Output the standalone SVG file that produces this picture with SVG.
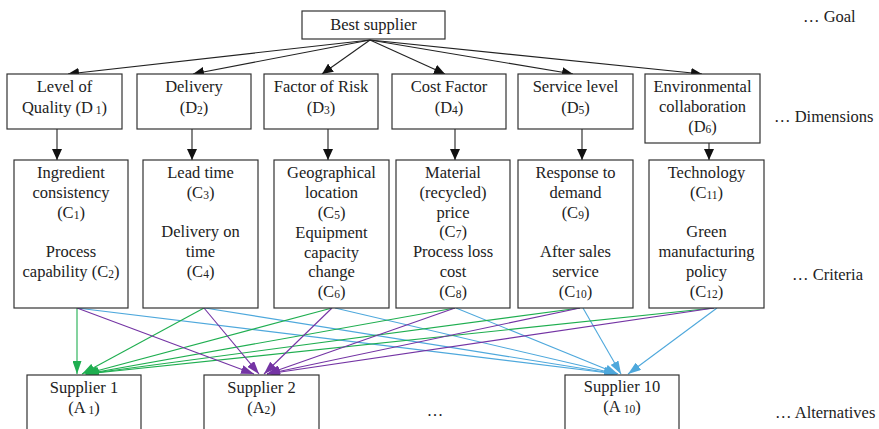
<svg xmlns="http://www.w3.org/2000/svg" width="879" height="429" viewBox="0 0 879 429">
<style>
text{font-family:"Liberation Serif","DejaVu Serif","Noto Serif",Tinos,"Times New Roman",Times,serif;font-size:16.5px;fill:#222;text-anchor:middle}
.lab{text-anchor:start}
.box{fill:#fff;stroke:#333;stroke-width:1.2}
.k{stroke:#222;stroke-width:1.1;fill:none}
.g{stroke:#1fae50;stroke-width:1.1;fill:none}
.p{stroke:#7434a4;stroke-width:1.1;fill:none}
.b{stroke:#4ea8dc;stroke-width:1.1;fill:none}
.s{font-size:11.5px}
</style>
<defs>
<marker id="ak" markerUnits="userSpaceOnUse" markerWidth="11" markerHeight="10" refX="11" refY="5" orient="auto"><path d="M0,0 L11,5 L0,10 z" fill="#111"/></marker>
<marker id="ag" markerUnits="userSpaceOnUse" markerWidth="13" markerHeight="9" refX="13" refY="4.5" orient="auto"><path d="M0,0 L13,4.5 L0,9 z" fill="#1fae50"/></marker>
<marker id="ap" markerUnits="userSpaceOnUse" markerWidth="13" markerHeight="9" refX="13" refY="4.5" orient="auto"><path d="M0,0 L13,4.5 L0,9 z" fill="#7434a4"/></marker>
<marker id="ab" markerUnits="userSpaceOnUse" markerWidth="13" markerHeight="9" refX="13" refY="4.5" orient="auto"><path d="M0,0 L13,4.5 L0,9 z" fill="#4ea8dc"/></marker>
</defs>

<g id="connectors">
<g marker-end="url(#ak)" class="k">
<line x1="370" y1="40" x2="68" y2="74"/>
<line x1="370" y1="40" x2="193" y2="74"/>
<line x1="370" y1="40" x2="322" y2="74"/>
<line x1="370" y1="40" x2="445" y2="74"/>
<line x1="370" y1="40" x2="573" y2="74"/>
<line x1="370" y1="40" x2="702" y2="74"/>
<line x1="57" y1="129" x2="57" y2="160"/>
<line x1="192" y1="129" x2="192" y2="160"/>
<line x1="328" y1="129" x2="328" y2="160"/>
<line x1="455" y1="129" x2="455" y2="160"/>
<line x1="582" y1="129" x2="582" y2="160"/>
<line x1="709" y1="143" x2="709" y2="160"/>
</g>
<g marker-end="url(#ab)" class="b">
<line x1="77" y1="308" x2="617" y2="374"/>
<line x1="205" y1="308" x2="617" y2="374"/>
<line x1="335" y1="308" x2="617" y2="374"/>
<line x1="456" y1="308" x2="618" y2="374"/>
<line x1="583" y1="308" x2="621" y2="374"/>
<line x1="717" y1="308" x2="628" y2="374"/>
</g>
<g marker-end="url(#ag)" class="g">
<line x1="77" y1="308" x2="77" y2="374"/>
<line x1="204" y1="308" x2="82" y2="374"/>
<line x1="332" y1="308" x2="85" y2="374"/>
<line x1="455" y1="308" x2="86" y2="374"/>
<line x1="580" y1="308" x2="86" y2="374"/>
<line x1="714" y1="308" x2="86" y2="374"/>
</g>
<g marker-end="url(#ap)" class="p">
<line x1="77" y1="308" x2="254" y2="374"/>
<line x1="204" y1="308" x2="259" y2="374"/>
<line x1="332" y1="308" x2="264" y2="374"/>
<line x1="455" y1="308" x2="267" y2="374"/>
<line x1="580" y1="308" x2="267" y2="374"/>
<line x1="714" y1="308" x2="267" y2="374"/>
</g>
</g>

<g id="goal"><rect class="box" x="302" y="11" width="143" height="28"/><text x="373.5" y="30">Best supplier</text></g>

<g id="d1"><rect class="box" x="7" y="74" width="115" height="55"/><text x="64.5" y="92">Level of</text><text x="64.5" y="113">Quality (D<tspan class="s" dy="1"> 1</tspan><tspan dy="-1">)</tspan></text></g>
<g id="d2"><rect class="box" x="137" y="74" width="114" height="55"/><text x="194" y="92">Delivery</text><text x="194" y="113">(D<tspan class="s" dy="1">2</tspan><tspan dy="-1">)</tspan></text></g>
<g id="d3"><rect class="box" x="264" y="74" width="114" height="55"/><text x="321" y="92">Factor of Risk</text><text x="321" y="113">(D<tspan class="s" dy="1">3</tspan><tspan dy="-1">)</tspan></text></g>
<g id="d4"><rect class="box" x="392" y="74" width="114" height="55"/><text x="449" y="92">Cost Factor</text><text x="449" y="113">(D<tspan class="s" dy="1">4</tspan><tspan dy="-1">)</tspan></text></g>
<g id="d5"><rect class="box" x="518" y="74" width="115" height="55"/><text x="575.5" y="92">Service level</text><text x="575.5" y="113">(D<tspan class="s" dy="1">5</tspan><tspan dy="-1">)</tspan></text></g>
<g id="d6"><rect class="box" x="645" y="74" width="115" height="69"/><text x="702.5" y="92">Environmental</text><text x="702.5" y="112">collaboration</text><text x="702.5" y="132">(D<tspan class="s" dy="1">6</tspan><tspan dy="-1">)</tspan></text></g>

<g id="c1"><rect class="box" x="14" y="160" width="114" height="148"/><text x="71" y="178">Ingredient</text><text x="71" y="198">consistency</text><text x="71" y="218">(C<tspan class="s" dy="1">1</tspan><tspan dy="-1">)</tspan></text><text x="71" y="257">Process</text><text x="71" y="277">capability (C<tspan class="s" dy="1">2</tspan><tspan dy="-1">)</tspan></text></g>
<g id="c2"><rect class="box" x="143" y="160" width="115" height="148"/><text x="200.5" y="178">Lead time</text><text x="200.5" y="198">(C<tspan class="s" dy="1">3</tspan><tspan dy="-1">)</tspan></text><text x="200.5" y="237">Delivery on</text><text x="200.5" y="257">time</text><text x="200.5" y="277">(C<tspan class="s" dy="1">4</tspan><tspan dy="-1">)</tspan></text></g>
<g id="c3"><rect class="box" x="274" y="160" width="115" height="148"/><text x="331.5" y="178">Geographical</text><text x="331.5" y="198">location</text><text x="331.5" y="218">(C<tspan class="s" dy="1">5</tspan><tspan dy="-1">)</tspan></text><text x="331.5" y="238">Equipment</text><text x="331.5" y="258">capacity</text><text x="331.5" y="277">change</text><text x="331.5" y="297">(C<tspan class="s" dy="1">6</tspan><tspan dy="-1">)</tspan></text></g>
<g id="c4"><rect class="box" x="396" y="160" width="114" height="148"/><text x="453" y="178">Material</text><text x="453" y="198">(recycled)</text><text x="453" y="218">price</text><text x="453" y="237">(C<tspan class="s" dy="1">7</tspan><tspan dy="-1">)</tspan></text><text x="453" y="257">Process loss</text><text x="453" y="277">cost</text><text x="453" y="297">(C<tspan class="s" dy="1">8</tspan><tspan dy="-1">)</tspan></text></g>
<g id="c5"><rect class="box" x="518" y="160" width="115" height="148"/><text x="575.5" y="178">Response to</text><text x="575.5" y="198">demand</text><text x="575.5" y="218">(C<tspan class="s" dy="1">9</tspan><tspan dy="-1">)</tspan></text><text x="575.5" y="257">After sales</text><text x="575.5" y="277">service</text><text x="575.5" y="297">(C<tspan class="s" dy="1">10</tspan><tspan dy="-1">)</tspan></text></g>
<g id="c6"><rect class="box" x="649" y="160" width="115" height="148"/><text x="706.5" y="178">Technology</text><text x="706.5" y="198">(C<tspan class="s" dy="1">11</tspan><tspan dy="-1">)</tspan></text><text x="706.5" y="237">Green</text><text x="706.5" y="257">manufacturing</text><text x="706.5" y="277">policy</text><text x="706.5" y="297">(C<tspan class="s" dy="1">12</tspan><tspan dy="-1">)</tspan></text></g>

<g id="a1"><rect class="box" x="27" y="375" width="114" height="70"/><text x="84" y="393">Supplier 1</text><text x="84" y="413">(A<tspan class="s" dy="1"> 1</tspan><tspan dy="-1">)</tspan></text></g>
<g id="a2"><rect class="box" x="204" y="375" width="115" height="70"/><text x="261.5" y="393">Supplier 2</text><text x="261.5" y="413">(A<tspan class="s" dy="1">2</tspan><tspan dy="-1">)</tspan></text></g>
<g id="a10"><rect class="box" x="565" y="375" width="114" height="70"/><text x="622" y="392">Supplier 10</text><text x="622" y="412">(A<tspan class="s" dy="1"> 10</tspan><tspan dy="-1">)</tspan></text></g>

<text x="435" y="416">…</text>
<text class="lab" x="803" y="22">… Goal</text>
<text class="lab" x="774" y="122">… Dimensions</text>
<text class="lab" x="792" y="280">… Criteria</text>
<text class="lab" x="775" y="418">… Alternatives</text>
</svg>
